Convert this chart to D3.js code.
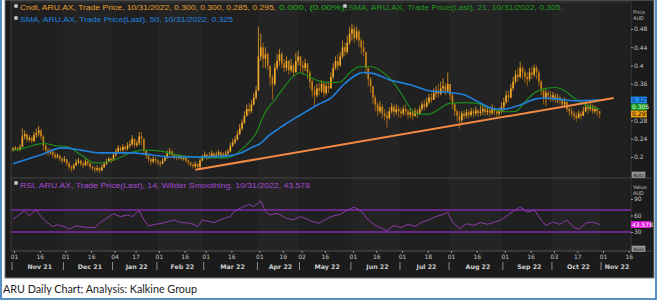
<!DOCTYPE html>
<html lang="en">
<head>
<meta charset="UTF-8">
<title>ARU Daily Chart</title>
<script src="https://d3js.org/d3.v7.min.js"></script>
<style>
  body { margin: 0; background: #fff; }
  svg { display: block; }
  .ax text { fill: #c4c4c4; font-family: "DejaVu Sans", sans-serif; font-size: 6px; }
  .ax line { stroke: #9a9a9a; }
  .ax path { display: none; }
  .month { fill: #cfcfcf; font-family: "DejaVu Sans", sans-serif; font-size: 6.3px; font-weight: bold; }
  .legend { font-family: "Liberation Sans", Arial, sans-serif; font-size: 8px; }
  .caption { font-family: Lato, "Open Sans", sans-serif; font-size: 11px; fill: #222; }
</style>
</head>
<body>
<svg id="chart" width="660" height="300"></svg>
<script>
// ---- data (ARU.AX daily, Nov 2021 - Oct 2022) ----
const firstOpen = 0.215;
const closes = [
  0.218,0.220,0.215,0.222,0.245,0.250,0.238,0.242,0.235,0.248,0.252,0.258,0.245,0.225,0.215,0.210,0.212,0.205,0.200,0.203,0.196,0.192,
  0.195,0.186,0.178,0.175,0.182,0.188,0.192,0.185,0.182,0.190,0.186,0.178,0.175,0.172,0.176,0.170,0.178,0.185,0.190,0.196,0.192,
  0.205,0.212,0.220,0.215,0.222,0.218,0.225,0.228,0.240,0.226,0.230,0.245,0.240,0.215,0.202,0.195,0.190,0.196,0.192,
  0.188,0.185,0.192,0.198,0.208,0.212,0.205,0.200,0.198,0.202,0.196,0.198,0.192,0.188,0.183,0.180,0.185,0.178,0.192,0.200,
  0.205,0.198,0.202,0.208,0.200,0.205,0.210,0.202,0.205,0.208,0.212,0.225,0.232,0.238,0.250,0.262,0.275,0.290,0.305,0.300,0.315,0.330,0.345,
  0.420,0.440,0.415,0.425,0.400,0.375,0.360,0.395,0.410,0.425,0.405,0.395,0.410,0.390,0.400,0.385,0.410,0.420,
  0.400,0.395,0.405,0.385,0.365,0.345,0.335,0.350,0.345,0.360,0.340,0.355,0.350,0.375,0.395,0.410,0.400,0.420,0.440,0.430,0.450,0.470,
  0.480,0.460,0.475,0.455,0.440,0.430,0.395,0.370,0.355,0.330,0.315,0.300,0.310,0.295,0.290,0.285,0.300,0.310,0.298,0.305,0.300,
  0.295,0.305,0.300,0.292,0.298,0.290,0.300,0.295,0.305,0.315,0.310,0.320,0.330,0.325,0.340,0.345,0.338,0.350,0.355,0.345,0.360,
  0.335,0.315,0.300,0.290,0.280,0.295,0.290,0.298,0.292,0.300,0.295,0.302,0.296,0.300,0.305,0.298,0.302,0.296,0.305,0.300,0.295,0.300,0.310,
  0.320,0.335,0.330,0.350,0.365,0.380,0.375,0.395,0.385,0.375,0.370,0.385,0.380,0.395,0.385,0.365,0.345,0.330,0.340,0.335,0.330,
  0.335,0.325,0.330,0.325,0.315,0.320,0.305,0.300,0.295,0.290,0.285,0.295,0.290,0.300,0.310,0.305,0.312,0.300,0.305,0.300,0.295
];
const highs = [
  0.222,0.224,0.222,0.228,0.262,0.258,0.252,0.248,0.245,0.255,0.262,0.268,0.262,0.248,0.228,0.220,0.218,0.214,0.210,0.208,0.205,0.200,
  0.202,0.196,0.190,0.182,0.186,0.195,0.198,0.194,0.190,0.196,0.194,0.188,0.182,0.180,0.182,0.178,0.184,0.190,0.196,0.200,0.198,
  0.210,0.218,0.226,0.224,0.228,0.226,0.232,0.236,0.248,0.240,0.236,0.255,0.255,0.240,0.216,0.205,0.198,0.202,0.200,
  0.196,0.192,0.198,0.204,0.214,0.220,0.216,0.208,0.204,0.206,0.204,0.202,0.200,0.195,0.190,0.188,0.190,0.186,0.196,0.205,
  0.212,0.208,0.210,0.214,0.210,0.212,0.216,0.212,0.210,0.214,0.218,0.232,0.240,0.245,0.258,0.272,0.282,0.300,0.315,0.318,0.325,0.340,0.355,
  0.485,0.470,0.450,0.440,0.430,0.400,0.380,0.405,0.425,0.436,0.430,0.415,0.420,0.412,0.415,0.405,0.428,0.432,
  0.412,0.410,0.415,0.405,0.390,0.370,0.355,0.360,0.362,0.368,0.365,0.362,0.365,0.385,0.405,0.420,0.425,0.430,0.455,0.450,0.465,0.485,
  0.492,0.488,0.485,0.480,0.460,0.455,0.430,0.395,0.375,0.350,0.335,0.320,0.322,0.315,0.305,0.300,0.308,0.318,0.315,0.315,0.312,
  0.308,0.312,0.315,0.305,0.306,0.300,0.308,0.305,0.312,0.322,0.325,0.330,0.338,0.340,0.350,0.355,0.360,0.365,0.372,0.362,0.385,
  0.355,0.340,0.318,0.305,0.300,0.300,0.302,0.305,0.303,0.308,0.306,0.310,0.305,0.312,0.315,0.310,0.312,0.308,0.315,0.310,0.305,0.308,0.320,
  0.330,0.345,0.345,0.360,0.375,0.390,0.395,0.408,0.400,0.392,0.385,0.395,0.398,0.402,0.400,0.390,0.368,0.350,0.348,0.345,0.345,
  0.342,0.340,0.338,0.335,0.328,0.330,0.322,0.310,0.308,0.300,0.298,0.302,0.300,0.310,0.318,0.315,0.320,0.315,0.312,0.310,0.300
];
const lows = [
  0.212,0.215,0.212,0.214,0.222,0.238,0.232,0.234,0.230,0.232,0.242,0.245,0.238,0.215,0.208,0.203,0.205,0.198,0.195,0.196,0.190,0.186,
  0.188,0.180,0.172,0.168,0.172,0.180,0.184,0.180,0.176,0.180,0.180,0.174,0.170,0.166,0.168,0.165,0.170,0.176,0.182,0.188,0.186,
  0.192,0.200,0.208,0.210,0.212,0.212,0.214,0.220,0.224,0.220,0.222,0.226,0.225,0.208,0.196,0.188,0.182,0.186,0.186,
  0.182,0.178,0.184,0.190,0.196,0.204,0.200,0.195,0.193,0.195,0.192,0.192,0.188,0.182,0.178,0.175,0.176,0.172,0.176,0.190,
  0.196,0.194,0.196,0.200,0.196,0.198,0.200,0.196,0.198,0.200,0.204,0.210,0.222,0.228,0.236,0.248,0.258,0.272,0.288,0.292,0.296,0.312,0.325,
  0.345,0.410,0.395,0.395,0.390,0.355,0.325,0.355,0.390,0.400,0.395,0.385,0.388,0.380,0.385,0.378,0.385,0.400,
  0.385,0.380,0.388,0.370,0.350,0.330,0.312,0.330,0.335,0.340,0.330,0.335,0.340,0.350,0.370,0.390,0.390,0.398,0.415,0.420,0.425,0.445,
  0.455,0.450,0.455,0.440,0.425,0.420,0.380,0.355,0.340,0.315,0.300,0.290,0.295,0.285,0.280,0.264,0.282,0.295,0.288,0.292,0.285,
  0.285,0.290,0.290,0.282,0.285,0.280,0.288,0.285,0.292,0.300,0.302,0.308,0.315,0.318,0.325,0.330,0.330,0.335,0.340,0.335,0.340,
  0.325,0.305,0.290,0.278,0.262,0.275,0.282,0.285,0.284,0.288,0.286,0.290,0.288,0.290,0.292,0.290,0.292,0.288,0.292,0.292,0.288,0.290,0.295,
  0.300,0.315,0.320,0.328,0.345,0.360,0.365,0.372,0.370,0.362,0.355,0.365,0.370,0.375,0.370,0.355,0.335,0.315,0.312,0.325,0.320,
  0.322,0.318,0.318,0.315,0.308,0.310,0.298,0.290,0.288,0.282,0.277,0.285,0.283,0.290,0.298,0.295,0.300,0.295,0.295,0.290,0.285
];

// moving averages, read at the trading-day index shown
const sma21Idx = [0,5,13,18,23,29,35,37,44,50,56,63,69,76,84,91,95,99,104,108,112,116,119,123,127,131,136,140,144,148,153,157,161,166,170,173,178,183,187,193,198,204,211,215,219,223,228,232,236,240,245,249,251];
const sma21 = [0.214,0.220,0.230,0.225,0.223,0.205,0.187,0.187,0.195,0.209,0.215,0.213,0.206,0.200,0.198,0.198,0.205,0.222,0.252,0.299,0.325,0.353,0.372,0.384,0.375,0.366,0.363,0.364,0.384,0.397,0.398,0.390,0.373,0.340,0.307,0.294,0.294,0.307,0.318,0.319,0.318,0.307,0.299,0.300,0.320,0.340,0.350,0.352,0.345,0.329,0.314,0.307,0.305];
const sma50Idx = [0,12,21,29,37,50,59,67,80,93,97,103,106,109,114,116,123,131,136,142,150,154,161,170,178,187,193,200,206,210,217,223,228,234,240,251];
const sma50 = [0.185,0.205,0.220,0.215,0.209,0.209,0.205,0.200,0.200,0.203,0.208,0.223,0.230,0.245,0.263,0.270,0.292,0.316,0.329,0.361,0.385,0.383,0.369,0.358,0.345,0.341,0.336,0.318,0.305,0.305,0.314,0.326,0.329,0.326,0.323,0.325];

// RSI(14, Wilder)
const rsiIdx = [0,5,7,8,10,12,14,17,19,22,24,27,32,35,37,40,43,46,49,51,54,56,58,61,64,69,72,76,79,81,86,89,93,94,96,101,103,106,108,110,113,117,120,123,126,128,131,136,140,143,146,149,152,155,158,160,163,166,169,172,175,178,181,184,186,188,191,194,197,200,203,206,209,212,215,217,220,223,226,228,231,234,237,240,242,245,248,251];
const rsiVals = [53,69,59,64,70,58,49,40,43,40,35,41,38,38,46,55,63,58,61,58,69,52,41,44,46,52,47,46,40,52,47,53,58,64,71,80,76,87,67,61,64,55,52,58,53,49,46,58,62,70,75,68,52,42,36,32,42,38,44,40,48,52,58,62,66,48,36,45,42,47,44,48,52,62,70,76,66,70,52,42,48,44,52,38,35,46,48,43.578];

// support trendline (index, price)
const trendIdx = [78, 257];
const trendVal = [0.172, 0.329];

const priceTicks = [0.2, 0.24, 0.28, 0.36, 0.4, 0.44, 0.48];
const rsiTicks = [30, 60, 90];
const rsiBands = [70, 30];
const holidays = ["2021-12-27","2021-12-28","2022-01-03","2022-01-26","2022-04-15","2022-04-18","2022-04-25","2022-06-13","2022-09-22"];

// ---- layout ----
const svg = d3.select("#chart");
const L = 11, R = 631, pTop = 2, pBot = 178, rBot = 251;

// trading days (ASX), data ends 31 Oct 2022, axis runs on to 16 Nov 2022
const ymd = d3.utcFormat("%Y-%m-%d");
const days = d3.utcDay.range(new Date(Date.UTC(2021, 10, 1)), new Date(Date.UTC(2022, 10, 17)))
  .filter(d => d.getUTCDay() % 6 !== 0 && !holidays.includes(ymd(d)));
const nData = closes.length;

const x = d3.scaleLinear().domain([0, nData]).range([13, 602]);
const y = d3.scaleLinear().domain([0.2, 0.48]).range([157, 29]);
const yr = d3.scaleLinear().domain([30, 70]).range([232, 210]);

// frame
svg.append("rect").attr("x", 1).attr("y", -3).attr("width", 655).attr("height", 302)
  .attr("fill", "none").attr("stroke", "#2f74b5").attr("stroke-width", 1.6);
svg.append("rect").attr("x", 5).attr("y", 0).attr("width", 649).attr("height", 278)
  .attr("fill", "#1b1b1b").attr("stroke", "#7a7a7a").attr("stroke-width", 1);

// month shading
const monthStarts = [];
days.forEach((d, i) => { if (i === 0 || d.getUTCMonth() !== days[i - 1].getUTCMonth()) monthStarts.push(i); });
monthStarts.forEach((s, k) => {
  const e = k + 1 < monthStarts.length ? monthStarts[k + 1] : days.length;
  const x0 = k === 0 ? L : x(s) - 1.2;
  svg.append("rect")
    .attr("x", x0).attr("y", pTop)
    .attr("width", Math.min(R, x(e) - 1.2) - x0).attr("height", rBot - pTop)
    .attr("fill", k % 2 ? "#242424" : "#202020");
});

// panel outlines
svg.append("rect").attr("x", L).attr("y", pTop).attr("width", R - L).attr("height", rBot - pTop)
  .attr("fill", "none").attr("stroke", "#3c3c3c");
svg.append("line").attr("x1", L).attr("x2", 652).attr("y1", pBot).attr("y2", pBot).attr("stroke", "#444");
svg.append("line").attr("x1", L).attr("x2", 652).attr("y1", rBot).attr("y2", rBot).attr("stroke", "#444");

svg.append("clipPath").attr("id", "cp").append("rect")
  .attr("x", L).attr("y", pTop).attr("width", R - L).attr("height", pBot - pTop);
const plot = svg.append("g").attr("clip-path", "url(#cp)");

// candles
const bw = 1.6;
const candles = closes.map((c, i) => {
  const o = i === 0 ? firstOpen : closes[i - 1];
  return { i, o, c, h: Math.max(highs[i], o, c), l: Math.min(lows[i], o, c) };
});
const cg = plot.append("g");
cg.selectAll("line").data(candles).join("line")
  .attr("x1", d => x(d.i)).attr("x2", d => x(d.i))
  .attr("y1", d => y(d.h)).attr("y2", d => y(d.l))
  .attr("stroke", d => d.c >= d.o ? "#e9a024" : "#b8740f").attr("stroke-width", 0.8);
cg.selectAll("rect").data(candles).join("rect")
  .attr("x", d => x(d.i) - bw / 2).attr("width", bw)
  .attr("y", d => y(Math.max(d.o, d.c)))
  .attr("height", d => Math.max(0.8, Math.abs(y(d.o) - y(d.c))))
  .attr("fill", d => d.c >= d.o ? "#f4aa2a" : "#c98218");

// moving averages
const smaLine = d3.line().x(d => x(d[0])).y(d => y(d[1])).curve(d3.curveMonotoneX);
plot.append("path").datum(sma21Idx.map((v, k) => [v, sma21[k]]))
  .attr("d", smaLine).attr("fill", "none").attr("stroke", "#1d8c1d").attr("stroke-width", 1.2);
plot.append("path").datum(sma50Idx.map((v, k) => [v, sma50[k]]))
  .attr("d", smaLine).attr("fill", "none").attr("stroke", "#2082dc").attr("stroke-width", 1.6);

// trendline
svg.append("line")
  .attr("x1", x(trendIdx[0])).attr("y1", y(trendVal[0]))
  .attr("x2", x(trendIdx[1])).attr("y2", y(trendVal[1]))
  .attr("stroke", "#f28a45").attr("stroke-width", 2);

// price axis
svg.append("g").attr("class", "ax").attr("transform", `translate(${R},0)`)
  .call(d3.axisRight(y).tickValues(priceTicks).tickSize(2).tickPadding(1).tickFormat(d => String(d)));

function smallText(txt, xx, yy) {
  svg.append("text").attr("x", xx).attr("y", yy).attr("fill", "#c4c4c4")
    .style("font", "5px 'DejaVu Sans'").text(txt);
}
smallText("Price", 633, 14);
smallText("AUD", 633, 20);

// last-value boxes
const boxes = [
  { v: "0.325", y: 100, bg: "#1e8fff", fg: "#0a1e3c" },
  { v: "0.305", y: 107, bg: "#16961a", fg: "#e8ffe8" },
  { v: "0.295", y: 114, bg: "#f1a21a", fg: "#1a1000" }
];
boxes.forEach(b => {
  svg.append("rect").attr("x", 631).attr("y", b.y - 3.4).attr("width", 16).attr("height", 6.8).attr("fill", b.bg);
  svg.append("text").attr("x", 632).attr("y", b.y + 2.2).attr("fill", b.fg)
    .style("font", "6px 'DejaVu Sans'").text(b.v);
});

function autoBox(yy) {
  svg.append("rect").attr("x", 632).attr("y", yy - 3).attr("width", 13).attr("height", 5.5)
    .attr("fill", "#8a8a8a").attr("stroke", "#bbb").attr("stroke-width", 0.5);
  svg.append("text").attr("x", 633.5).attr("y", yy + 1.5).attr("fill", "#222")
    .style("font", "4.5px 'DejaVu Sans'").text("Auto");
}
autoBox(175);
autoBox(249);

// RSI panel
const rp = svg.append("g");
rsiBands.forEach(v => {
  rp.append("line").attr("x1", L).attr("x2", R).attr("y1", yr(v)).attr("y2", yr(v))
    .attr("stroke", "#7f2aa8").attr("stroke-width", 1.6);
});
const rsiLine = d3.line().x(d => x(d[0])).y(d => yr(d[1]));
rp.append("path").datum(rsiIdx.map((v, k) => [v, rsiVals[k]]))
  .attr("d", rsiLine).attr("fill", "none").attr("stroke", "#9640b8").attr("stroke-width", 0.9);

svg.append("g").attr("class", "ax").attr("transform", `translate(${R},0)`)
  .call(d3.axisRight(yr).tickValues(rsiTicks).tickSize(2).tickPadding(1));
smallText("Value", 633, 189);
smallText("AUD", 633, 195);
svg.append("rect").attr("x", 631).attr("y", yr(43.578) - 3.4).attr("width", 20).attr("height", 6.8).attr("fill", "#e21be2");
svg.append("text").attr("x", 632).attr("y", yr(43.578) + 2.2).attr("fill", "#fff")
  .style("font", "6px 'DejaVu Sans'").text("43.578");

// date axis
const tickIdx = [];
monthStarts.forEach(s => {
  tickIdx.push(s);
  const mid = days.findIndex(d => d.getUTCFullYear() === days[s].getUTCFullYear()
    && d.getUTCMonth() === days[s].getUTCMonth() && d.getUTCDate() >= 16);
  if (mid >= 0) tickIdx.push(mid);
});
const dayFmt = d3.utcFormat("%d");
svg.append("g").attr("class", "ax").attr("transform", `translate(1,${rBot})`)
  .call(d3.axisBottom(x).tickValues(tickIdx).tickSize(2).tickPadding(1.5).tickFormat(i => dayFmt(days[i])));

const monFmt = d3.utcFormat("%b %y");
monthStarts.forEach((s, k) => {
  const e = k + 1 < monthStarts.length ? monthStarts[k + 1] : days.length;
  svg.append("line").attr("x1", x(s) - 1).attr("x2", x(s) - 1).attr("y1", 262).attr("y2", 270)
    .attr("stroke", "#aaa").attr("stroke-width", 0.8);
  svg.append("text").attr("class", "month").attr("x", (x(s) + x(e)) / 2 + 1).attr("y", 269)
    .attr("text-anchor", "middle").text(monFmt(days[s]));
});

// legends
function icon(xx, yy) {
  svg.append("rect").attr("x", xx - 2).attr("y", yy - 2).attr("width", 4).attr("height", 4).attr("rx", 1).attr("fill", "#9a9a9a");
  svg.append("circle").attr("cx", xx).attr("cy", yy).attr("r", 0.9).attr("fill", "#eee");
}
function legend(txt, xx, yy, w, col) {
  svg.append("text").attr("class", "legend").attr("x", xx).attr("y", yy).attr("fill", col)
    .attr("textLength", w).attr("lengthAdjust", "spacingAndGlyphs").text(txt);
}
icon(16, 6);
legend("Cndl, ARU.AX, Trade Price, 10/31/2022, 0.300, 0.300, 0.285, 0.295,", 20, 10, 256, "#e8a12c");
legend("0.000, (0.00%),", 279, 10, 68, "#22b422");
icon(345, 6);
legend("SMA, ARU.AX, Trade Price(Last),  21, 10/31/2022, 0.305,", 348, 10, 215, "#1f9a1f");
icon(16, 18);
legend("SMA, ARU.AX, Trade Price(Last),  50, 10/31/2022, 0.325", 20, 22, 213, "#2183e0");
icon(16, 183);
legend("RSI, ARU.AX, Trade Price(Last),  14, Wilder Smoothing, 10/31/2022, 43.578", 20, 187.5, 290, "#a84ad6");

// caption
svg.append("text").attr("class", "caption").attr("x", 3).attr("y", 293)
  .attr("textLength", 194).attr("lengthAdjust", "spacingAndGlyphs")
  .text("ARU Daily Chart; Analysis: Kalkine Group");
</script>
</body>
</html>
